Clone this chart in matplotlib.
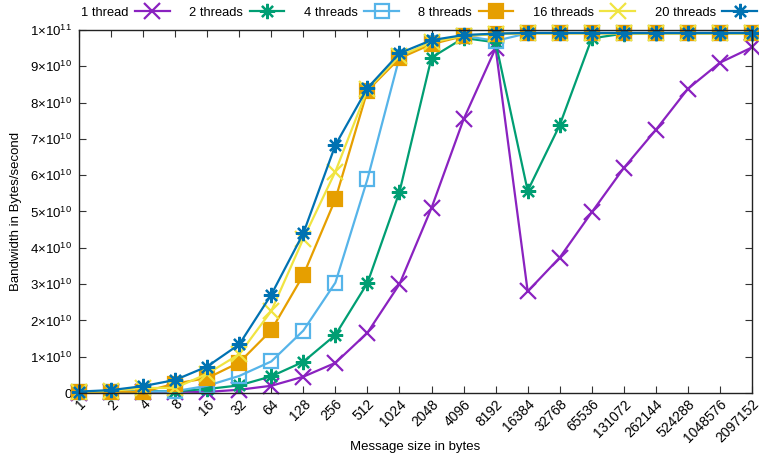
import matplotlib.pyplot as plt
import numpy as np

plt.rcParams['font.family'] = ['Liberation Sans', 'DejaVu Sans']
plt.rcParams['mathtext.fontset'] = 'custom'
plt.rcParams['mathtext.rm'] = 'Liberation Sans'
plt.rcParams['mathtext.it'] = 'Liberation Sans'

sizes = ['1', '2', '4', '8', '16', '32', '64', '128', '256', '512', '1024',
         '2048', '4096', '8192', '16384', '32768', '65536', '131072',
         '262144', '524288', '1048576', '2097152']

# bandwidth in units of 1e9 bytes/second
bw_1 = [0.1, 0.2, 0.3, 0.4, 0.3, 0.9, 2.0, 4.5, 8.3, 16.6, 30.0, 51.0, 75.4,
        95.0, 28.0, 37.3, 49.8, 62.0, 72.5, 83.8, 91.0, 95.2]
bw_2 = [0.15, 0.3, 0.5, 0.5, 1.1, 2.1, 4.6, 8.6, 16.0, 30.3, 55.4, 92.4, 97.8,
        96.6, 55.7, 73.8, 97.7, 99.0, 99.1, 99.1, 99.1, 99.1]
bw_4 = [0.25, 0.4, 0.4, 0.5, 2.0, 4.7, 8.7, 17.2, 30.4, 58.9, 92.5, 96.5, 98.4,
        97.0, 99.1, 99.1, 99.1, 99.1, 99.1, 99.1, 99.1, 99.1]
bw_8 = [0.3, 0.4, 0.3, 2.6, 4.1, 8.4, 17.3, 32.5, 53.4, 83.3, 92.2, 96.1, 98.3,
        98.9, 99.1, 99.1, 99.1, 99.1, 99.1, 99.1, 99.1, 99.1]
bw_16 = [0.35, 0.6, 1.4, 1.4, 5.3, 10.7, 22.6, 42.5, 61.0, 83.7, 92.8, 96.6,
         98.4, 98.9, 99.1, 99.1, 99.1, 99.1, 99.1, 99.1, 99.1, 99.1]
bw_20 = [0.4, 0.8, 1.9, 3.6, 7.3, 13.4, 27.1, 44.0, 68.3, 84.0, 93.6, 97.2,
         98.6, 99.0, 99.2, 99.2, 99.2, 99.2, 99.2, 99.2, 99.2, 99.2]

labels = ['1 thread', '2 threads', '4 threads', '8 threads', '16 threads', '20 threads']
colors = ['#8a22c0', '#009e73', '#56b4e9', '#e69f00', '#f0e442', '#0072b2']
asterisk = (8, 2, 0)
markers = ['x', asterisk, 's', 's', 'x', asterisk]
fills = [True, True, False, True, True, True]
msizes = [12, 11, 10, 10, 12, 11]

fig = plt.figure(figsize=(7.59, 4.57), dpi=100)
ax = fig.add_axes([0.1041, 0.14, 0.8867, 0.7944])

x = np.arange(len(sizes))
series = [bw_1, bw_2, bw_4, bw_8, bw_16, bw_20]
for vals, lab, c, m, f, ms in zip(series, labels, colors, markers, fills, msizes):
    ax.plot(x, np.array(vals) * 1e9, color=c, lw=1.6, marker=m, ms=ms,
            mew=1.6, mfc=c if f else 'none', mec=c, label=lab, clip_on=False)

ax.set_xlim(0, len(sizes) - 1)
ax.set_ylim(0, 1e11)
ax.set_xticks(x)
ax.set_xticklabels(sizes, rotation=45, ha='right', rotation_mode='anchor', fontsize=10)
yt = np.arange(0, 11) * 1e10
ylabels = ['0'] + [r'$\mathregular{%d{\times}10^{10}}$' % i for i in range(1, 10)] \
    + [r'$\mathregular{1{\times}10^{11}}$']
ax.set_yticks(yt)
ax.set_yticklabels(ylabels, fontsize=9.5)
ax.tick_params(direction='in', top=True, right=True, length=5, width=0.8,
               color='#333333')
ax.tick_params(axis='x', pad=3)
ax.tick_params(axis='y', pad=5)
for s in ax.spines.values():
    s.set_linewidth(1.0)
    s.set_color('#222222')

fig.text(415.5 / 759, 1 - 447 / 457, 'Message size in bytes', fontsize=9.5,
         ha='center', va='center')
ax.set_ylabel('Bandwidth in Bytes/second', fontsize=9.5, labelpad=6)

ax.legend(ncol=6, loc='center right', bbox_to_anchor=(757 / 759, 1 - 13 / 457),
          bbox_transform=fig.transFigure, frameon=False, markerfirst=False,
          handlelength=2.7, columnspacing=1.5, handletextpad=0.5,
          fontsize=9.3, borderaxespad=0, borderpad=0, numpoints=1)

fig.savefig('out.png', dpi=100)
